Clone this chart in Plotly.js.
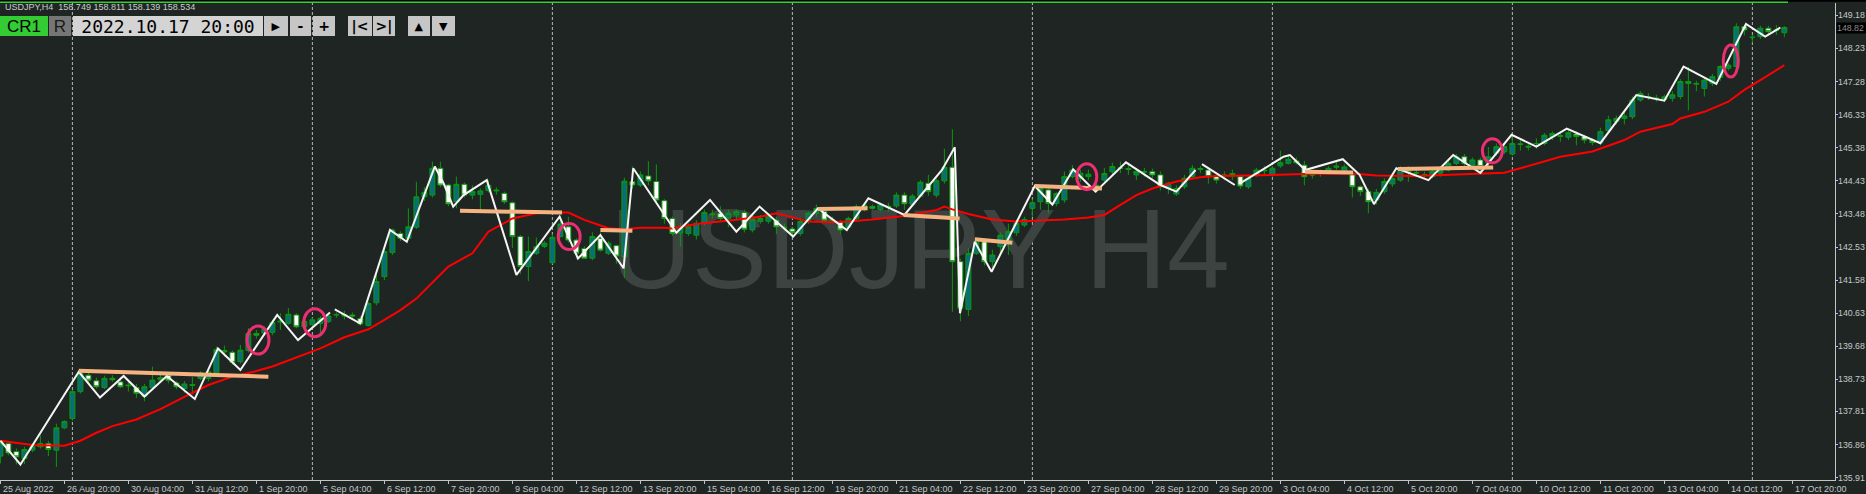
<!DOCTYPE html>
<html><head><meta charset="utf-8">
<script src="https://cdn.plot.ly/plotly-3.0.1.min.js"></script>
<style>html,body{margin:0;padding:0;background:#1f2522;overflow:hidden}#chart{width:1866px;height:494px}</style>
</head><body><div id="chart"></div>
<script>
// ---- data (USDJPY H4, bar index 0 = 25 Aug 2022 12:00) ----
const openP = [136.53,136.89,136.66,136.46,136.70,136.80,136.89,136.70,137.34,137.61,138.38,138.85,138.69,138.50,138.76,138.66,138.57,138.50,138.25,138.50,138.72,138.85,138.63,138.47,138.58,138.76,138.76,138.92,139.56,139.51,139.24,139.56,140.05,140.06,140.08,140.38,140.34,140.58,140.24,140.30,140.34,140.39,140.58,140.55,140.58,140.48,140.28,140.93,141.68,142.37,142.92,142.78,143.10,143.97,144.02,144.79,144.31,143.83,144.33,144.02,144.04,144.15,144.14,144.07,143.80,142.83,141.97,142.35,142.55,142.08,142.83,143.11,142.73,142.49,142.21,142.78,142.35,142.57,142.25,144.40,144.31,144.57,144.41,143.86,143.35,142.93,142.92,142.87,143.21,143.48,143.50,143.35,143.45,143.52,143.02,143.26,143.27,143.30,143.10,143.05,142.92,143.30,143.50,143.55,143.31,143.26,143.10,143.35,143.65,143.69,143.61,143.70,143.71,144.02,143.76,143.99,144.36,144.02,144.43,144.82,142.11,140.74,142.35,142.68,142.11,142.54,142.68,142.94,143.16,143.64,143.83,144.17,143.78,143.88,144.55,144.50,144.55,144.30,144.45,144.69,144.80,144.78,144.60,144.68,144.69,144.60,144.22,144.05,144.26,144.55,144.78,144.74,144.55,144.60,144.57,144.55,144.26,144.60,144.74,144.60,144.86,144.93,145.00,144.88,144.60,144.66,144.69,144.82,144.69,144.60,144.26,144.12,143.88,144.12,144.34,144.45,144.70,144.65,144.60,144.55,144.65,144.74,144.93,145.12,144.88,145.03,144.93,145.22,145.26,145.20,145.49,145.42,145.50,145.50,145.70,145.72,145.68,145.77,145.70,145.60,145.52,145.87,146.13,146.22,146.27,146.75,146.85,146.80,146.77,146.80,146.85,147.28,147.22,147.08,147.23,147.40,147.66,147.71,148.85,148.55,148.57,148.81,148.75,148.68];
const highP = [136.97,136.95,136.75,136.80,136.88,137.13,136.96,137.46,137.56,138.43,138.97,138.92,138.78,138.84,138.85,138.80,138.67,138.60,138.60,139.10,138.90,138.92,138.68,138.68,138.80,138.97,139.00,139.67,139.70,139.56,139.72,140.20,140.15,140.25,140.45,140.63,140.78,140.63,140.45,140.50,140.55,140.62,140.65,140.70,140.65,140.55,140.95,141.73,142.45,143.06,142.98,143.64,144.40,144.25,144.98,144.98,144.35,144.55,144.38,144.30,144.21,144.45,144.24,144.12,143.84,142.88,142.83,142.80,142.70,142.90,143.43,143.40,142.78,142.55,142.95,142.95,142.70,142.60,144.52,144.85,144.70,144.99,144.90,143.90,143.40,143.21,143.20,143.30,143.60,143.60,143.70,143.60,143.60,143.60,143.50,143.45,143.50,143.40,143.20,143.10,143.35,143.55,143.75,143.60,143.40,143.30,143.40,143.75,143.80,143.75,143.80,143.80,144.10,144.10,144.05,144.45,144.60,144.50,145.35,145.91,142.20,142.50,142.80,142.68,142.45,142.95,143.20,143.30,143.40,143.90,144.30,144.30,144.10,144.70,144.88,144.75,144.75,144.40,144.80,144.95,144.98,144.95,144.80,144.80,144.78,144.70,144.40,144.30,144.60,144.88,144.85,144.80,144.60,144.70,144.75,144.60,144.60,144.80,144.85,144.85,145.30,145.20,145.10,145.00,144.70,144.75,144.85,145.03,144.90,144.70,144.30,144.20,144.20,144.50,144.60,144.85,144.85,144.75,144.70,144.75,144.80,145.00,145.20,145.20,145.10,145.10,145.40,145.50,145.50,145.75,145.60,145.50,145.65,145.80,145.85,145.80,145.90,145.85,145.75,145.65,145.95,146.30,146.30,146.40,146.85,147.00,146.95,146.90,146.90,147.00,147.35,147.70,147.30,147.35,147.50,147.75,147.80,148.95,148.90,148.62,148.88,148.88,148.90,148.87];
const lowP = [136.32,136.55,136.29,136.30,136.64,136.75,136.53,136.22,137.30,137.55,138.33,138.65,138.47,138.45,138.66,138.48,138.38,138.20,138.10,138.43,138.65,138.62,138.45,138.35,138.30,138.70,138.68,138.88,139.38,139.15,139.18,139.50,139.90,139.98,140.00,140.15,140.30,140.20,140.18,140.20,140.05,140.35,140.50,140.45,140.45,140.28,140.25,140.86,141.58,142.30,142.70,142.73,143.05,143.85,143.95,144.25,143.70,143.64,143.95,143.90,143.55,144.10,144.03,143.77,142.50,141.75,141.55,142.30,142.50,142.05,142.80,142.66,142.20,142.20,142.15,142.40,142.30,142.05,141.64,144.20,144.25,144.30,143.80,143.20,142.85,142.54,142.85,142.75,143.15,143.35,143.28,143.10,143.30,142.95,142.95,143.20,143.20,142.90,142.98,142.83,142.85,143.20,143.40,143.25,143.20,142.90,143.05,143.30,143.55,143.60,143.55,143.55,143.65,143.60,143.70,143.95,144.00,143.95,144.35,140.67,140.40,140.55,142.30,142.00,141.85,142.30,142.30,142.85,143.10,143.40,143.60,143.50,143.70,143.80,144.50,144.40,144.45,144.10,144.40,144.60,144.65,144.60,144.45,144.55,144.50,144.15,144.05,144.00,144.20,144.50,144.65,144.35,144.35,144.45,144.45,144.20,144.20,144.55,144.60,144.55,144.80,144.90,144.90,144.30,144.50,144.55,144.60,144.75,144.60,143.95,144.00,143.50,143.75,144.05,144.25,144.40,144.40,144.55,144.50,144.50,144.55,144.70,144.88,144.85,144.80,144.70,144.84,145.15,145.20,145.15,145.30,145.30,145.35,145.45,145.60,145.55,145.60,145.45,145.50,145.45,145.45,145.80,146.05,146.05,146.20,146.70,146.75,146.70,146.70,146.70,146.77,146.45,147.00,146.85,147.15,147.30,147.60,147.60,148.60,148.40,148.50,148.60,148.62,148.55];
const closeP = [136.89,136.62,136.51,136.72,136.80,136.89,136.72,137.34,137.52,138.38,138.92,138.71,138.52,138.76,138.72,138.52,138.55,138.33,138.52,138.71,138.78,138.71,138.52,138.60,138.56,138.92,138.95,139.59,139.52,139.22,139.57,140.05,140.00,140.17,140.36,140.40,140.60,140.24,140.39,140.44,140.48,140.55,140.59,140.60,140.55,140.32,140.91,141.54,142.40,143.02,142.78,143.11,143.97,144.10,144.79,144.31,143.77,144.33,144.02,144.12,144.14,144.30,144.16,143.83,142.83,141.97,142.40,142.54,142.64,142.81,143.19,142.73,142.35,142.21,142.83,142.44,142.64,142.27,144.42,144.31,144.60,144.43,143.88,143.35,142.92,143.07,143.11,143.21,143.52,143.46,143.35,143.50,143.55,143.04,143.31,143.35,143.40,143.11,143.08,142.95,143.26,143.50,143.64,143.30,143.30,143.02,143.35,143.69,143.73,143.64,143.74,143.68,144.02,143.77,143.99,144.39,144.12,144.43,144.82,142.11,140.77,142.35,142.68,142.11,142.30,142.87,142.97,143.21,143.32,143.80,144.21,143.78,144.07,144.55,144.74,144.65,144.62,144.22,144.64,144.84,144.79,144.76,144.70,144.69,144.60,144.26,144.36,144.21,144.50,144.79,144.76,144.55,144.45,144.58,144.64,144.28,144.50,144.74,144.72,144.79,144.95,145.05,144.95,144.55,144.60,144.68,144.79,144.85,144.83,144.26,144.12,143.83,144.10,144.41,144.50,144.79,144.68,144.66,144.60,144.70,144.74,144.93,145.12,144.93,145.03,144.84,145.12,145.41,145.41,145.50,145.48,145.40,145.50,145.74,145.79,145.71,145.81,145.70,145.60,145.53,145.84,146.18,146.22,146.29,146.75,146.94,146.84,146.80,146.84,146.90,147.28,147.23,147.21,147.32,147.42,147.71,147.75,148.85,148.76,148.55,148.81,148.71,148.76,148.83];

// moving average (red), read at selected bars
const maBar = [0,2,4,8,10,12,14,17,20,23,26,29,32,34,37,40,43,46,48,50,52,54,56,59,61,64,67,69,71,73,76,78,80,83,84,87,90,92,95,97,99,101,104,106,109,112,114,115,117,118,119,121,124,127,130,133,136,138,140,142,144,147,150,152,156,160,164,169,172,177,181,185,188,190,192,195,199,203,205,209,210,213,216,218,220,223];
const maVal = [136.97,136.91,136.85,136.83,136.97,137.20,137.39,137.58,137.88,138.23,138.57,138.81,138.97,139.10,139.35,139.62,139.94,140.17,140.44,140.72,141.05,141.51,141.97,142.35,142.97,143.35,143.50,143.52,143.52,143.31,143.07,143.04,143.08,143.08,143.06,143.19,143.26,143.31,143.40,143.50,143.38,143.26,143.24,143.26,143.32,143.40,143.45,143.51,143.59,143.69,143.61,143.48,143.32,143.26,143.28,143.32,143.38,143.45,143.74,144.02,144.21,144.41,144.53,144.57,144.58,144.61,144.63,144.64,144.58,144.57,144.60,144.64,144.66,144.79,144.93,145.12,145.27,145.60,145.84,146.06,146.22,146.41,146.70,147.04,147.32,147.75];

// white swing line (null = gap)
const swingBar = [0,2.5,9.8,12.45,15.4,18,20.8,24.3,27.2,30,34.6,37.2,41.2,null,41.8,44.95,48.7,50.8,54.3,55.4,56.6,57.9,60.8,64.5,69.9,72.2,75,77.9,79.1,84.5,88.7,92,94.9,99.1,102.2,105.8,108.5,113,117.7,119.3,119.95,121.8,123.9,129.3,131.5,134.1,136.9,140.7,145,147,149.4,null,150.2,154.3,null,154.9,160.4,161.2,163.1,167.8,169.9,171.7,174.5,178.5,181.6,185,188.9,192,195.8,200,204.5,208,210.4,214.5,218.2,220.6,222.5];
const swingVal = [136.97,136.29,138.95,138.21,138.83,138.24,138.83,138.17,139.62,139.0,140.58,139.86,140.65,null,140.74,140.34,143.02,142.68,144.84,144.36,143.69,144.02,144.45,141.73,143.40,142.2,142.87,141.92,144.79,142.94,143.88,142.97,143.69,142.83,143.64,143.02,143.93,143.45,144.74,145.39,140.63,142.68,141.82,144.28,143.75,144.76,144.12,144.96,144.31,144.12,144.74,null,144.91,144.31,null,144.35,145.12,145.17,144.74,145.05,144.6,143.76,144.79,144.45,145.17,144.66,145.75,145.41,145.93,145.51,146.89,146.73,147.71,147.21,148.93,148.57,148.83];

// orange horizontal trend lines
const trendBar = [9.8,33.5,null,57.45,70.2,null,75.0,79.0,null,102.2,108.4,null,112.9,119.9,null,121.8,126.5,null,129.3,137.7,null,163.1,169.1,null,174.7,186.6];
const trendVal = [138.98,138.81,null,143.57,143.52,null,143.02,143.00,null,143.62,143.64,null,143.45,143.35,null,142.75,142.65,null,144.28,144.21,null,144.69,144.67,null,144.77,144.81];

// pink ellipse marks (centres)
const markBar = [32.2,39.3,71.1,135.8,186.5,216.3];
const markVal = [139.86,140.36,142.83,144.55,145.29,147.87];

// weekly separators (Monday 00:00 bars)
const sepBar = [9,39,69,99,129,159,189,219];

// time axis labels
const timeTickBar = [0,8,16,24,32,40,48,56,64,72,80,88,96,104,112,120,128,136,144,152,160,168,176,184,192,200,208,216,224];
const timeTickText = ['25 Aug 2022','26 Aug 20:00','30 Aug 04:00','31 Aug 12:00','1 Sep 20:00','5 Sep 04:00','6 Sep 12:00','7 Sep 20:00','9 Sep 04:00','12 Sep 12:00','13 Sep 20:00','15 Sep 04:00','16 Sep 12:00','19 Sep 20:00','21 Sep 04:00','22 Sep 12:00','23 Sep 20:00','27 Sep 04:00','28 Sep 12:00','29 Sep 20:00','3 Oct 04:00','4 Oct 12:00','5 Oct 20:00','7 Oct 04:00','10 Oct 12:00','11 Oct 20:00','13 Oct 04:00','14 Oct 12:00','17 Oct 20:00'];

// price axis labels
const priceTicks = [149.18,148.23,147.28,146.33,145.38,144.43,143.48,142.53,141.58,140.63,139.68,138.73,137.81,136.86,135.91];
const priceTickText = ['149.18','148.23','147.28','146.33','145.38','144.43','143.48','142.53','141.58','140.63','139.68','138.73','137.81','136.86','135.91'];
const lastPrice = 148.83, lastPriceText = '148.82';
const headerText = 'USDJPY,H4\u00a0\u00a0158.749 158.811 158.139 158.534';
const symbolText = 'USDJPY H4';

// ---- layout helpers (pixel -> paper) ----
const PW = 1835, PT = 3, PB = 480;
const fx = px => px / PW;
const fy = py => (PB - py) / (PB - PT);
const BG = '#1f2522', AX = '#c4c4c4', LBL = '#c3c8cc', GREEN = '#0a9a0a';
const bars = openP.map((_, i) => i);

const traces = [
  {type:'candlestick', x:bars, open:openP, high:highP, low:lowP, close:closeP,
   increasing:{line:{color:GREEN,width:1}, fillcolor:'#0a6e78'},
   decreasing:{line:{color:GREEN,width:1}, fillcolor:'#ffffff'},
   whiskerwidth:0, hoverinfo:'skip', showlegend:false},
  {type:'scatter', mode:'lines', x:maBar, y:maVal, line:{color:'#ff0000', width:2}, hoverinfo:'skip'},
  {type:'scatter', mode:'lines', x:swingBar, y:swingVal, connectgaps:false, line:{color:'#f4f4f4', width:2}, hoverinfo:'skip'},
  {type:'scatter', mode:'lines', x:trendBar, y:trendVal, connectgaps:false, line:{color:'#f5b382', width:4}, hoverinfo:'skip'}
];

const shapes = [];
sepBar.forEach(b => shapes.push({type:'line', xref:'x', yref:'paper', x0:b, x1:b, y0:0, y1:fy(0), layer:'below',
  line:{color:'#b8b8b8', width:1, dash:'3px,2px'}}));
const mr = [[11,14],[11,14],[11,13],[10,13],[10,12],[7.5,16]];
markBar.forEach((b, i) => shapes.push({type:'circle', xref:'x', yref:'y', xsizemode:'pixel', ysizemode:'pixel',
  xanchor:b, yanchor:markVal[i], x0:-mr[i][0], x1:mr[i][0], y0:-mr[i][1], y1:mr[i][1],
  line:{color:'#ec2f6f', width:3}, layer:'above'}));
// watermark (behind candles)
shapes.push({type:'rect', xref:'paper', yref:'paper', x0:fx(560), x1:fx(1280), y0:fy(300), y1:fy(176), layer:'below',
  line:{width:0}, fillcolor:'rgba(0,0,0,0)',
  label:{text:symbolText, textposition:'middle center', font:{size:113, color:'#3d4341', family:'Liberation Sans, Arial, sans-serif'}}});
// top strip and green line
shapes.push({type:'rect', xref:'paper', yref:'paper', x0:0, x1:fx(1866), y0:fy(0), y1:fy(1.8), line:{width:0}, fillcolor:'#000000', layer:'above'});
shapes.push({type:'line', xref:'paper', yref:'paper', x0:0, x1:fx(1788), y0:fy(2.3), y1:fy(2.3), line:{color:'#2fd02f', width:1.5}, layer:'above'});

const ann = [];
const tf = {size:9, color:LBL, family:'Liberation Sans, Arial, sans-serif'};
timeTickBar.forEach((b, i) => ann.push({xref:'x', yref:'paper', x:b, y:0, xanchor:'left', yanchor:'top',
  xshift:2, yshift:-3, text:timeTickText[i], showarrow:false, font:tf, borderpad:0}));
priceTicks.forEach((v, i) => ann.push({xref:'paper', yref:'y', x:1, y:v, xanchor:'left', yanchor:'middle',
  xshift:2, text:priceTickText[i], showarrow:false, font:{size:8.8, color:LBL, family:'Liberation Sans, Arial, sans-serif'}, borderpad:0}));
ann.push({xref:'paper', yref:'y', x:1, y:lastPrice, xanchor:'left', yanchor:'middle', xshift:1,
  text:lastPriceText, showarrow:false, font:{size:8.8, color:'#8a8a8a', family:'Liberation Sans, Arial, sans-serif'},
  bgcolor:'#000000', width:29, height:10, borderpad:0, align:'left'});
ann.push({xref:'paper', yref:'paper', x:fx(4), y:fy(7.3), xanchor:'left', yanchor:'middle', text:headerText,
  showarrow:false, font:{size:9, color:'#c8cdd0', family:'Liberation Sans, Arial, sans-serif'}, borderpad:0});
// control bar
const btn = (left, w, text, bg, font) => ann.push({xref:'paper', yref:'paper', x:fx(left), y:fy(15.7), xanchor:'left', yanchor:'top',
  width:w, height:20, bgcolor:bg, borderpad:0, borderwidth:0, text:text, showarrow:false, align:'center', valign:'middle', font:font});
const bf = {size:17, color:'#000000', family:'Liberation Sans, Arial, sans-serif'};
btn(0, 48, 'CR1', '#33cc33', bf);
btn(49, 22, 'R', '#767676', {size:17, color:'#1a1a1a', family:'Liberation Sans, Arial, sans-serif'});
btn(73, 190, '2022.10.17 20:00', '#d4d4d4', {size:18, color:'#000000', family:'DejaVu Sans Mono, monospace'});
const sf = {size:14, color:'#000000', family:'DejaVu Sans, sans-serif'};
btn(264, 24, '\u25B6', '#c6c6c6', {size:11, color:'#000000', family:'DejaVu Sans, sans-serif'});
btn(290, 21, '<b>-</b>', '#c6c6c6', sf);
btn(313, 22, '<b>+</b>', '#c6c6c6', sf);
btn(348, 24, '<b>|&lt;</b>', '#c6c6c6', sf);
btn(373, 22, '<b>&gt;|</b>', '#c6c6c6', sf);
btn(408, 22, '\u25B2', '#c6c6c6', {size:11, color:'#000000', family:'DejaVu Sans, sans-serif'});
btn(432, 23, '\u25BC', '#c6c6c6', {size:11, color:'#000000', family:'DejaVu Sans, sans-serif'});

const layout = {
  width:1866, height:494, margin:{l:0, r:31, t:PT, b:494-PB, pad:0},
  paper_bgcolor:BG, plot_bgcolor:BG, showlegend:false, hovermode:false, dragmode:false,
  boxgap:0.38, boxgroupgap:0,
  xaxis:{range:[-0.05,229.33], showgrid:false, zeroline:false, showline:true, linecolor:AX, linewidth:1,
    tickmode:'array', tickvals:timeTickBar, ticks:'outside', ticklen:3, tickcolor:AX, showticklabels:false,
    rangeslider:{visible:false}, fixedrange:true},
  yaxis:{side:'right', range:[135.844,149.533], showgrid:false, zeroline:false, showline:true, linecolor:AX, linewidth:1,
    tickmode:'array', tickvals:priceTicks, ticks:'outside', ticklen:2, tickcolor:AX, showticklabels:false, fixedrange:true},
  shapes:shapes, annotations:ann
};
Plotly.newPlot('chart', traces, layout, {staticPlot:true, displayModeBar:false});
</script></body></html>
